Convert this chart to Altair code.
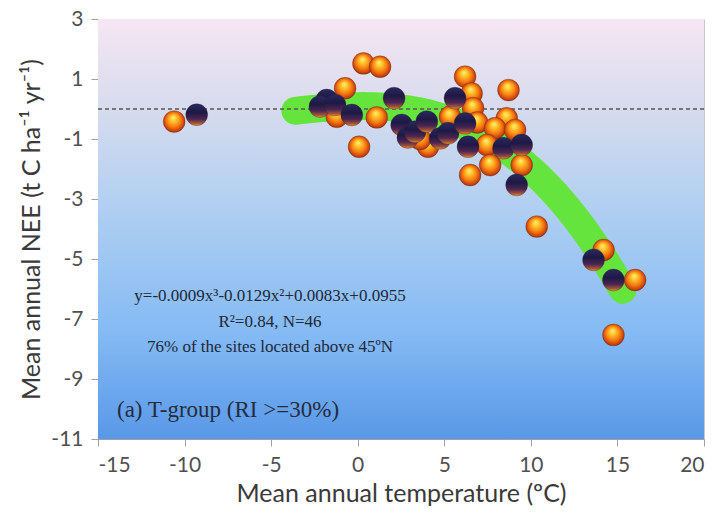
import altair as alt
import pandas as pd

# Sites coloured orange
orange_x = [-10.6, 0.33, 1.29, -0.73, -1.21, 1.1, 0.08, 4.06, 3.6, 6.2, 6.58, 6.66,
            5.33, 6.9, 6.49, 8.71, 8.61, 7.93, 9.09, 7.47, 7.65, 9.47, 10.34, 14.2,
            16.02, 14.77]
orange_y = [-0.42, 1.52, 1.41, 0.69, -0.26, -0.28, -1.26, -1.26, -1.0, 1.08, 0.52, 0.03,
            -0.26, -0.45, -2.2, 0.63, -0.31, -0.64, -0.7, -1.2, -1.87, -1.87, -3.92, -4.7,
            -5.7, -7.53]

# Sites coloured dark purple
dark_x = [-9.3, -1.79, -2.18, -1.31, -0.34, 2.1, 2.54, 2.9, 3.31, 3.99, 4.76, 5.22,
          5.62, 6.2, 6.37, 8.42, 9.47, 9.18, 13.62, 14.77]
dark_y = [-0.19, 0.3, 0.08, 0.13, -0.2, 0.36, -0.53, -0.95, -0.76, -0.42, -0.98, -0.81,
          0.36, -0.48, -1.26, -1.31, -1.2, -2.53, -5.03, -5.7]

# Cubic fit: y = a x^3 + b x^2 + c x + d
fit_coef = [-0.0009, -0.0129, 0.0083, 0.0955]
fit_x = [round(-3.6 + 0.3 * i, 2) for i in range(64)]
fit_y = [fit_coef[0] * v**3 + fit_coef[1] * v**2 + fit_coef[2] * v + fit_coef[3] for v in fit_x]

x_ticks = [-15, -10, -5, 0, 5, 10, 15, 20]
y_ticks = [3, 1, -1, -3, -5, -7, -9, -11]

W, H = 606, 420

orange_df = pd.DataFrame({"t": orange_x, "nee": orange_y})
dark_df = pd.DataFrame({"t": dark_x, "nee": dark_y})
fit_df = pd.DataFrame({"t": fit_x, "nee": fit_y})

x_scale = alt.Scale(domain=[-15, 20], nice=False, zero=False)
y_scale = alt.Scale(domain=[-11, 3], nice=False, zero=False)

# plain hyphen-minus in tick labels
plain_label = "'' + datum.value"

x_enc = alt.X("t:Q", scale=x_scale,
              axis=alt.Axis(values=x_ticks, title="Mean annual temperature (ºC)",
                            labelExpr=plain_label, titlePadding=6))
y_enc = alt.Y("nee:Q", scale=y_scale,
              axis=alt.Axis(values=y_ticks, title="Mean annual NEE (t C ha⁻¹ yr⁻¹)",
                            labelExpr=plain_label, titlePadding=6))

bg_grad = alt.LinearGradient(
    gradient="linear", x1=0, y1=0, x2=0, y2=1,
    stops=[
        alt.GradientStop(offset=0, color="#f6e6f3"),
        alt.GradientStop(offset=0.2, color="#d9dcee"),
        alt.GradientStop(offset=0.45, color="#b0cff2"),
        alt.GradientStop(offset=0.75, color="#84baf4"),
        alt.GradientStop(offset=1, color="#5998e8"),
    ],
)

orange_grad = alt.RadialGradient(
    gradient="radial", x1=0.45, y1=0.3, r1=0, x2=0.5, y2=0.5, r2=0.55,
    stops=[
        alt.GradientStop(offset=0, color="#fff27a"),
        alt.GradientStop(offset=0.28, color="#ffc22a"),
        alt.GradientStop(offset=0.6, color="#f57a12"),
        alt.GradientStop(offset=0.85, color="#c8400c"),
        alt.GradientStop(offset=1, color="#6a2010"),
    ],
)

dark_grad = alt.LinearGradient(
    gradient="linear", x1=0, y1=0, x2=0, y2=1,
    stops=[
        alt.GradientStop(offset=0, color="#2a2a60"),
        alt.GradientStop(offset=0.4, color="#1e1845"),
        alt.GradientStop(offset=0.7, color="#4a2652"),
        alt.GradientStop(offset=0.88, color="#a0503a"),
        alt.GradientStop(offset=1, color="#e0902e"),
    ],
)

background = alt.Chart(pd.DataFrame({"a": [0]})).mark_rect(color=bg_grad).encode(
    x=alt.value(0), x2=alt.value(W), y=alt.value(0), y2=alt.value(H)
)

fit_band = alt.Chart(fit_df).mark_line(
    color="#64e43c", strokeWidth=28, strokeCap="round", strokeJoin="round"
).encode(x=x_enc, y=y_enc)

zero_line = alt.Chart(pd.DataFrame({"nee": [0]})).mark_rule(
    color="#555555", strokeDash=[4, 3], strokeWidth=1.3
).encode(y=alt.Y("nee:Q", scale=y_scale))

orange_pts = alt.Chart(orange_df).mark_circle(
    size=480, opacity=1, color=orange_grad, stroke="#5a2a18", strokeWidth=0.6, strokeOpacity=0.5
).encode(x="t:Q", y="nee:Q")

dark_pts = alt.Chart(dark_df).mark_circle(
    size=480, opacity=1, color=dark_grad, stroke="#2a1a20", strokeWidth=0.6, strokeOpacity=0.5
).encode(x="t:Q", y="nee:Q")

ann_lines = pd.DataFrame({
    "txt": ["y=-0.0009x³-0.0129x²+0.0083x+0.0955",
            "R²=0.84, N=46",
            "76% of the sites located above 45ºN"],
    "py": [277, 303, 328],
})
annotation = alt.Chart(ann_lines).mark_text(
    font="Liberation Serif", fontSize=17, color="#222838", align="center", baseline="middle"
).encode(x=alt.value(172), y=alt.Y("py:Q", scale=None), text="txt:N")

panel_label = alt.Chart(pd.DataFrame({"a": [0]})).mark_text(
    text="(a) T-group (RI >=30%)", font="Liberation Serif", fontSize=23,
    color="#252c3c", align="left", baseline="middle"
).encode(x=alt.value(19), y=alt.value(391))

chart = alt.layer(
    background, fit_band, zero_line, orange_pts, dark_pts, annotation, panel_label
).properties(
    width=W, height=H,
    autosize=alt.AutoSizeParams(type="none"),
    padding={"left": 98, "top": 19, "right": 15, "bottom": 88},
).configure_view(
    stroke="#c8c8d0", strokeWidth=1
).configure_axis(
    grid=False,
    domainColor="#a0a0a0",
    tickColor="#a0a0a0",
    tickSize=7,
    labelColor="#505050",
    labelFont="Lato",
    labelFontSize=21,
    titleFont="Lato",
    titleFontSize=25,
    titleFontWeight="normal",
    titleColor="#3a3a3a",
).configure_axisX(
    labelPadding=8,
).configure_axisY(
    labelPadding=8,
)

chart.save("out.html", embed_options={"renderer": "svg", "actions": False})
